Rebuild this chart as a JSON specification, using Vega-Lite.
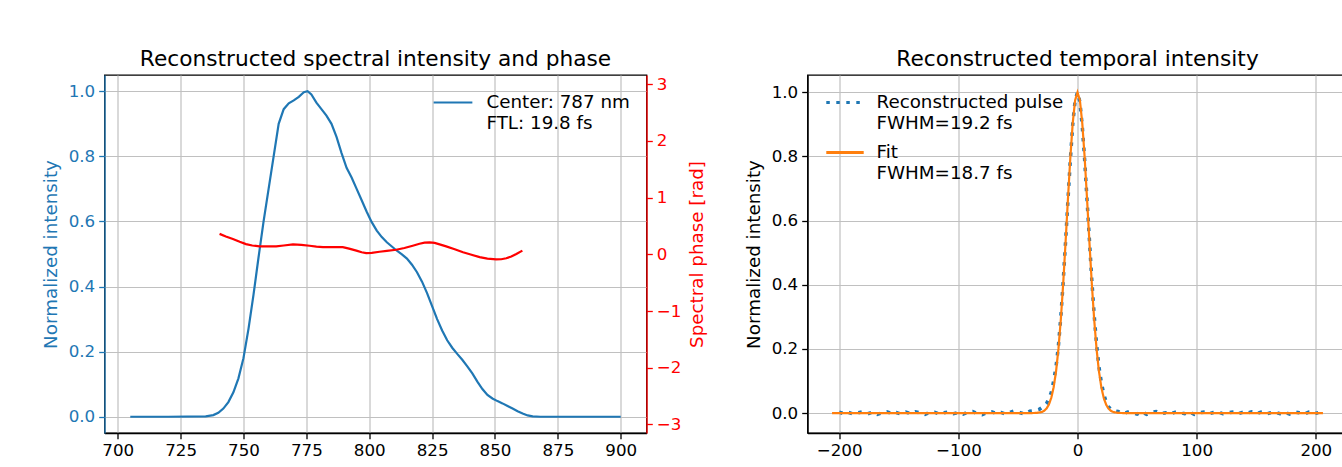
{
  "$schema": "https://vega.github.io/schema/vega-lite/v6.json",
  "background": "white",
  "padding": {"left": 40.5, "top": 48, "right": 0, "bottom": 0},
  "spacing": 36,
  "datasets": {
    "spectrum": [
      {"wavelength": 705, "intensity": 0, "series": "Center: 787 nm|FTL: 19.8 fs"},
      {"wavelength": 720, "intensity": 0, "series": "Center: 787 nm|FTL: 19.8 fs"},
      {"wavelength": 735, "intensity": 0.001, "series": "Center: 787 nm|FTL: 19.8 fs"},
      {"wavelength": 738, "intensity": 0.005, "series": "Center: 787 nm|FTL: 19.8 fs"},
      {"wavelength": 740, "intensity": 0.012, "series": "Center: 787 nm|FTL: 19.8 fs"},
      {"wavelength": 742, "intensity": 0.025, "series": "Center: 787 nm|FTL: 19.8 fs"},
      {"wavelength": 744, "intensity": 0.045, "series": "Center: 787 nm|FTL: 19.8 fs"},
      {"wavelength": 746, "intensity": 0.075, "series": "Center: 787 nm|FTL: 19.8 fs"},
      {"wavelength": 748, "intensity": 0.118, "series": "Center: 787 nm|FTL: 19.8 fs"},
      {"wavelength": 750, "intensity": 0.18, "series": "Center: 787 nm|FTL: 19.8 fs"},
      {"wavelength": 752, "intensity": 0.27, "series": "Center: 787 nm|FTL: 19.8 fs"},
      {"wavelength": 754, "intensity": 0.375, "series": "Center: 787 nm|FTL: 19.8 fs"},
      {"wavelength": 756, "intensity": 0.49, "series": "Center: 787 nm|FTL: 19.8 fs"},
      {"wavelength": 758, "intensity": 0.6, "series": "Center: 787 nm|FTL: 19.8 fs"},
      {"wavelength": 760, "intensity": 0.7, "series": "Center: 787 nm|FTL: 19.8 fs"},
      {"wavelength": 762, "intensity": 0.8, "series": "Center: 787 nm|FTL: 19.8 fs"},
      {"wavelength": 764, "intensity": 0.9, "series": "Center: 787 nm|FTL: 19.8 fs"},
      {"wavelength": 766, "intensity": 0.945, "series": "Center: 787 nm|FTL: 19.8 fs"},
      {"wavelength": 768, "intensity": 0.963, "series": "Center: 787 nm|FTL: 19.8 fs"},
      {"wavelength": 770, "intensity": 0.972, "series": "Center: 787 nm|FTL: 19.8 fs"},
      {"wavelength": 772, "intensity": 0.983, "series": "Center: 787 nm|FTL: 19.8 fs"},
      {"wavelength": 774, "intensity": 0.997, "series": "Center: 787 nm|FTL: 19.8 fs"},
      {"wavelength": 775.5, "intensity": 1.0, "series": "Center: 787 nm|FTL: 19.8 fs"},
      {"wavelength": 777, "intensity": 0.99, "series": "Center: 787 nm|FTL: 19.8 fs"},
      {"wavelength": 779, "intensity": 0.965, "series": "Center: 787 nm|FTL: 19.8 fs"},
      {"wavelength": 781, "intensity": 0.945, "series": "Center: 787 nm|FTL: 19.8 fs"},
      {"wavelength": 783, "intensity": 0.925, "series": "Center: 787 nm|FTL: 19.8 fs"},
      {"wavelength": 785, "intensity": 0.9, "series": "Center: 787 nm|FTL: 19.8 fs"},
      {"wavelength": 787, "intensity": 0.86, "series": "Center: 787 nm|FTL: 19.8 fs"},
      {"wavelength": 789, "intensity": 0.81, "series": "Center: 787 nm|FTL: 19.8 fs"},
      {"wavelength": 791, "intensity": 0.765, "series": "Center: 787 nm|FTL: 19.8 fs"},
      {"wavelength": 793, "intensity": 0.735, "series": "Center: 787 nm|FTL: 19.8 fs"},
      {"wavelength": 795, "intensity": 0.7, "series": "Center: 787 nm|FTL: 19.8 fs"},
      {"wavelength": 797, "intensity": 0.665, "series": "Center: 787 nm|FTL: 19.8 fs"},
      {"wavelength": 799, "intensity": 0.63, "series": "Center: 787 nm|FTL: 19.8 fs"},
      {"wavelength": 801, "intensity": 0.598, "series": "Center: 787 nm|FTL: 19.8 fs"},
      {"wavelength": 803, "intensity": 0.572, "series": "Center: 787 nm|FTL: 19.8 fs"},
      {"wavelength": 805, "intensity": 0.552, "series": "Center: 787 nm|FTL: 19.8 fs"},
      {"wavelength": 807, "intensity": 0.536, "series": "Center: 787 nm|FTL: 19.8 fs"},
      {"wavelength": 809, "intensity": 0.523, "series": "Center: 787 nm|FTL: 19.8 fs"},
      {"wavelength": 811, "intensity": 0.51, "series": "Center: 787 nm|FTL: 19.8 fs"},
      {"wavelength": 813, "intensity": 0.499, "series": "Center: 787 nm|FTL: 19.8 fs"},
      {"wavelength": 815, "intensity": 0.486, "series": "Center: 787 nm|FTL: 19.8 fs"},
      {"wavelength": 817, "intensity": 0.467, "series": "Center: 787 nm|FTL: 19.8 fs"},
      {"wavelength": 819, "intensity": 0.444, "series": "Center: 787 nm|FTL: 19.8 fs"},
      {"wavelength": 821, "intensity": 0.415, "series": "Center: 787 nm|FTL: 19.8 fs"},
      {"wavelength": 823, "intensity": 0.38, "series": "Center: 787 nm|FTL: 19.8 fs"},
      {"wavelength": 825, "intensity": 0.34, "series": "Center: 787 nm|FTL: 19.8 fs"},
      {"wavelength": 827, "intensity": 0.3, "series": "Center: 787 nm|FTL: 19.8 fs"},
      {"wavelength": 829, "intensity": 0.265, "series": "Center: 787 nm|FTL: 19.8 fs"},
      {"wavelength": 831, "intensity": 0.235, "series": "Center: 787 nm|FTL: 19.8 fs"},
      {"wavelength": 833, "intensity": 0.212, "series": "Center: 787 nm|FTL: 19.8 fs"},
      {"wavelength": 835, "intensity": 0.193, "series": "Center: 787 nm|FTL: 19.8 fs"},
      {"wavelength": 837, "intensity": 0.175, "series": "Center: 787 nm|FTL: 19.8 fs"},
      {"wavelength": 839, "intensity": 0.155, "series": "Center: 787 nm|FTL: 19.8 fs"},
      {"wavelength": 841, "intensity": 0.133, "series": "Center: 787 nm|FTL: 19.8 fs"},
      {"wavelength": 843, "intensity": 0.108, "series": "Center: 787 nm|FTL: 19.8 fs"},
      {"wavelength": 845, "intensity": 0.085, "series": "Center: 787 nm|FTL: 19.8 fs"},
      {"wavelength": 847, "intensity": 0.067, "series": "Center: 787 nm|FTL: 19.8 fs"},
      {"wavelength": 849, "intensity": 0.056, "series": "Center: 787 nm|FTL: 19.8 fs"},
      {"wavelength": 851, "intensity": 0.048, "series": "Center: 787 nm|FTL: 19.8 fs"},
      {"wavelength": 853, "intensity": 0.041, "series": "Center: 787 nm|FTL: 19.8 fs"},
      {"wavelength": 855, "intensity": 0.033, "series": "Center: 787 nm|FTL: 19.8 fs"},
      {"wavelength": 857, "intensity": 0.025, "series": "Center: 787 nm|FTL: 19.8 fs"},
      {"wavelength": 859, "intensity": 0.017, "series": "Center: 787 nm|FTL: 19.8 fs"},
      {"wavelength": 861, "intensity": 0.01, "series": "Center: 787 nm|FTL: 19.8 fs"},
      {"wavelength": 863, "intensity": 0.004, "series": "Center: 787 nm|FTL: 19.8 fs"},
      {"wavelength": 865, "intensity": 0.001, "series": "Center: 787 nm|FTL: 19.8 fs"},
      {"wavelength": 868, "intensity": 0, "series": "Center: 787 nm|FTL: 19.8 fs"},
      {"wavelength": 900, "intensity": 0, "series": "Center: 787 nm|FTL: 19.8 fs"}
    ],
    "phase": [
      {"wavelength": 740.5, "phase": 0.36},
      {"wavelength": 743, "phase": 0.315},
      {"wavelength": 745.8, "phase": 0.27},
      {"wavelength": 748.5, "phase": 0.22},
      {"wavelength": 751, "phase": 0.18},
      {"wavelength": 753.5, "phase": 0.155},
      {"wavelength": 756.4, "phase": 0.14},
      {"wavelength": 760, "phase": 0.14},
      {"wavelength": 763, "phase": 0.14},
      {"wavelength": 766, "phase": 0.155},
      {"wavelength": 769.7, "phase": 0.175},
      {"wavelength": 773, "phase": 0.165},
      {"wavelength": 776.3, "phase": 0.15},
      {"wavelength": 779, "phase": 0.135},
      {"wavelength": 781.6, "phase": 0.125},
      {"wavelength": 785, "phase": 0.125},
      {"wavelength": 789.5, "phase": 0.125},
      {"wavelength": 792, "phase": 0.1},
      {"wavelength": 794.9, "phase": 0.065},
      {"wavelength": 797, "phase": 0.035},
      {"wavelength": 798.8, "phase": 0.02},
      {"wavelength": 801, "phase": 0.025},
      {"wavelength": 804.1, "phase": 0.045},
      {"wavelength": 807, "phase": 0.06},
      {"wavelength": 810.7, "phase": 0.08},
      {"wavelength": 814, "phase": 0.11},
      {"wavelength": 817.3, "phase": 0.15},
      {"wavelength": 820, "phase": 0.185},
      {"wavelength": 822, "phase": 0.205},
      {"wavelength": 824, "phase": 0.21},
      {"wavelength": 826, "phase": 0.2},
      {"wavelength": 828, "phase": 0.175},
      {"wavelength": 830.6, "phase": 0.14},
      {"wavelength": 834, "phase": 0.09},
      {"wavelength": 837.3, "phase": 0.035},
      {"wavelength": 840, "phase": 0.0},
      {"wavelength": 843.9, "phase": -0.05},
      {"wavelength": 847, "phase": -0.075},
      {"wavelength": 850.5, "phase": -0.09},
      {"wavelength": 852.5, "phase": -0.088},
      {"wavelength": 854.5, "phase": -0.07},
      {"wavelength": 856.5, "phase": -0.04},
      {"wavelength": 858.5, "phase": 0.005},
      {"wavelength": 860.9, "phase": 0.065}
    ],
    "pulse": [
      {"time": -200, "intensity": 0.003}, {"time": -196, "intensity": -0.002}, {"time": -192, "intensity": 0.002},
      {"time": -188, "intensity": -0.003}, {"time": -184, "intensity": 0.001}, {"time": -180, "intensity": 0.004},
      {"time": -176, "intensity": -0.002}, {"time": -172, "intensity": 0.003}, {"time": -168, "intensity": -0.004},
      {"time": -164, "intensity": 0.001}, {"time": -160, "intensity": 0.004}, {"time": -156, "intensity": -0.001},
      {"time": -152, "intensity": 0.002}, {"time": -148, "intensity": -0.003}, {"time": -144, "intensity": 0.003},
      {"time": -140, "intensity": -0.002}, {"time": -136, "intensity": 0.004}, {"time": -132, "intensity": 0.001},
      {"time": -128, "intensity": -0.004}, {"time": -124, "intensity": 0.002}, {"time": -120, "intensity": 0.003},
      {"time": -116, "intensity": -0.003}, {"time": -112, "intensity": 0.001}, {"time": -108, "intensity": 0.004},
      {"time": -104, "intensity": -0.002}, {"time": -100, "intensity": 0.002}, {"time": -96, "intensity": -0.003},
      {"time": -92, "intensity": 0.003}, {"time": -88, "intensity": 0.005}, {"time": -84, "intensity": -0.002},
      {"time": -80, "intensity": -0.005}, {"time": -76, "intensity": 0.002}, {"time": -72, "intensity": 0.004},
      {"time": -68, "intensity": -0.001}, {"time": -64, "intensity": 0.002}, {"time": -60, "intensity": -0.004},
      {"time": -56, "intensity": 0.003}, {"time": -52, "intensity": 0.008}, {"time": -48, "intensity": 0.001},
      {"time": -44, "intensity": -0.003}, {"time": -40, "intensity": 0.006}, {"time": -36, "intensity": 0.008},
      {"time": -32, "intensity": 0.012}, {"time": -28, "intensity": 0.022}, {"time": -26, "intensity": 0.03},
      {"time": -24, "intensity": 0.045}, {"time": -22, "intensity": 0.065}, {"time": -20, "intensity": 0.1},
      {"time": -18, "intensity": 0.145}, {"time": -16, "intensity": 0.21}, {"time": -14, "intensity": 0.3},
      {"time": -12, "intensity": 0.41}, {"time": -10, "intensity": 0.535}, {"time": -8, "intensity": 0.665},
      {"time": -6, "intensity": 0.79}, {"time": -4, "intensity": 0.9}, {"time": -2, "intensity": 0.975},
      {"time": 0, "intensity": 1.0}, {"time": 2, "intensity": 0.97}, {"time": 4, "intensity": 0.895},
      {"time": 6, "intensity": 0.79}, {"time": 8, "intensity": 0.665}, {"time": 10, "intensity": 0.54},
      {"time": 12, "intensity": 0.415}, {"time": 14, "intensity": 0.305}, {"time": 16, "intensity": 0.215},
      {"time": 18, "intensity": 0.145}, {"time": 20, "intensity": 0.095}, {"time": 22, "intensity": 0.06},
      {"time": 24, "intensity": 0.035}, {"time": 26, "intensity": 0.02}, {"time": 28, "intensity": 0.012},
      {"time": 30, "intensity": 0.008}, {"time": 34, "intensity": 0.005}, {"time": 38, "intensity": -0.002},
      {"time": 42, "intensity": 0.003}, {"time": 46, "intensity": 0.001}, {"time": 50, "intensity": -0.003},
      {"time": 54, "intensity": 0.004}, {"time": 58, "intensity": -0.004}, {"time": 62, "intensity": 0.002},
      {"time": 66, "intensity": 0.005}, {"time": 70, "intensity": -0.002}, {"time": 74, "intensity": 0.001},
      {"time": 78, "intensity": -0.003}, {"time": 82, "intensity": 0.003}, {"time": 86, "intensity": 0.002},
      {"time": 90, "intensity": -0.002}, {"time": 94, "intensity": 0.004}, {"time": 98, "intensity": -0.004},
      {"time": 102, "intensity": 0.001}, {"time": 106, "intensity": 0.003}, {"time": 110, "intensity": -0.003},
      {"time": 114, "intensity": 0.002}, {"time": 118, "intensity": 0.004}, {"time": 122, "intensity": -0.002},
      {"time": 126, "intensity": 0.001}, {"time": 130, "intensity": 0.003}, {"time": 134, "intensity": -0.003},
      {"time": 138, "intensity": 0.002}, {"time": 142, "intensity": -0.001}, {"time": 146, "intensity": 0.004},
      {"time": 150, "intensity": -0.002}, {"time": 154, "intensity": 0.003}, {"time": 158, "intensity": -0.003},
      {"time": 162, "intensity": 0.001}, {"time": 166, "intensity": 0.003}, {"time": 170, "intensity": -0.002},
      {"time": 174, "intensity": 0.002}, {"time": 178, "intensity": -0.003}, {"time": 182, "intensity": 0.004},
      {"time": 186, "intensity": 0.001}, {"time": 190, "intensity": -0.003}, {"time": 194, "intensity": 0.003},
      {"time": 198, "intensity": -0.002}, {"time": 202, "intensity": 0.001}
    ],
    "fit": [
      {"time": -206, "intensity": 0}, {"time": -40, "intensity": 0}, {"time": -34, "intensity": 0.0007},
      {"time": -30, "intensity": 0.0035}, {"time": -28, "intensity": 0.0072}, {"time": -26, "intensity": 0.0143},
      {"time": -24, "intensity": 0.0268}, {"time": -22, "intensity": 0.0477}, {"time": -20, "intensity": 0.0808},
      {"time": -18, "intensity": 0.1304}, {"time": -16, "intensity": 0.2}, {"time": -14, "intensity": 0.2916},
      {"time": -12, "intensity": 0.4044}, {"time": -10, "intensity": 0.5333}, {"time": -8, "intensity": 0.6687},
      {"time": -6, "intensity": 0.7975}, {"time": -4, "intensity": 0.9043}, {"time": -2, "intensity": 0.9752},
      {"time": 0, "intensity": 1.0}, {"time": 2, "intensity": 0.9752}, {"time": 4, "intensity": 0.9043},
      {"time": 6, "intensity": 0.7975}, {"time": 8, "intensity": 0.6687}, {"time": 10, "intensity": 0.5333},
      {"time": 12, "intensity": 0.4044}, {"time": 14, "intensity": 0.2916}, {"time": 16, "intensity": 0.2},
      {"time": 18, "intensity": 0.1304}, {"time": 20, "intensity": 0.0808}, {"time": 22, "intensity": 0.0477},
      {"time": 24, "intensity": 0.0268}, {"time": 26, "intensity": 0.0143}, {"time": 28, "intensity": 0.0072},
      {"time": 30, "intensity": 0.0035}, {"time": 34, "intensity": 0.0007}, {"time": 40, "intensity": 0},
      {"time": 206, "intensity": 0}
    ]
  },
  "resolve": {
    "scale": {"color": "independent", "strokeDash": "independent"},
    "legend": {"color": "independent", "strokeDash": "independent"}
  },
  "hconcat": [
    {
      "title": "Reconstructed spectral intensity and phase",
      "width": 542,
      "height": 358,
      "layer": [
        {
          "data": {"name": "spectrum"},
          "mark": {"type": "line", "strokeWidth": 2.2},
          "encoding": {
            "x": {"field": "wavelength", "type": "quantitative", "title": "Wavelength [nm]",
              "scale": {"domain": [694.75, 910.25], "nice": false, "zero": false},
              "axis": {"values": [700, 725, 750, 775, 800, 825, 850, 875, 900], "grid": true}},
            "y": {"field": "intensity", "type": "quantitative", "title": "Normalized intensity",
              "scale": {"domain": [-0.05, 1.05], "nice": false, "zero": false},
              "axis": {"orient": "left", "values": [0, 0.2, 0.4, 0.6, 0.8, 1.0], "format": ".1f", "grid": true,
                "labelColor": "#1f77b4", "titleColor": "#1f77b4", "tickColor": "#1f77b4", "domainColor": "#1f77b4"}},
            "color": {"field": "series", "type": "nominal",
              "scale": {"domain": ["Center: 787 nm|FTL: 19.8 fs"], "range": ["#1f77b4"]},
              "legend": {"title": null, "orient": "none", "legendX": 328, "legendY": 7, "padding": 0,
                "symbolType": "stroke", "symbolSize": 1500, "symbolStrokeWidth": 2.2,
                "labelExpr": "split(datum.label, '|')", "labelOffset": 13}}
          }
        },
        {
          "data": {"name": "phase"},
          "mark": {"type": "line", "strokeWidth": 2.2, "color": "#ff0000"},
          "encoding": {
            "x": {"field": "wavelength", "type": "quantitative", "title": "Wavelength [nm]",
              "scale": {"domain": [694.75, 910.25], "nice": false, "zero": false}},
            "y": {"field": "phase", "type": "quantitative", "title": "Spectral phase [rad]",
              "scale": {"domain": [-3.15, 3.16], "nice": false, "zero": false},
              "axis": {"orient": "right", "values": [-3, -2, -1, 0, 1, 2, 3], "grid": false,
                "labelExpr": "replace(datum.label, '-', '−')", "titleAngle": 270, "titleBaseline": "top",
                "labelColor": "#ff0000", "titleColor": "#ff0000", "tickColor": "#ff0000", "domainColor": "#ff0000"}}
          }
        }
      ],
      "resolve": {"scale": {"y": "independent"}}
    },
    {
      "title": "Reconstructed temporal intensity",
      "width": 540,
      "height": 358,
      "layer": [
        {
          "data": {"name": "pulse"},
          "transform": [{"calculate": "'Reconstructed pulse|FWHM=19.2 fs'", "as": "series"}],
          "mark": {"type": "line", "strokeWidth": 3.5},
          "encoding": {
            "x": {"field": "time", "type": "quantitative", "title": "Time [fs]",
              "scale": {"domain": [-226.6, 226.6], "nice": false, "zero": false},
              "axis": {"values": [-200, -100, 0, 100, 200], "grid": true, "labelExpr": "replace(datum.label, '-', '−')"}},
            "y": {"field": "intensity", "type": "quantitative", "title": "Normalized intensity",
              "scale": {"domain": [-0.062, 1.054], "nice": false, "zero": false},
              "axis": {"values": [0, 0.2, 0.4, 0.6, 0.8, 1.0], "format": ".1f", "grid": true}},
            "color": {"field": "series", "type": "nominal",
              "scale": {"domain": ["Reconstructed pulse|FWHM=19.2 fs", "Fit|FWHM=18.7 fs"], "range": ["#1f77b4", "#ff7f0e"]},
              "legend": {"title": null, "orient": "none", "legendX": 17, "legendY": 7, "padding": 0,
                "symbolType": "stroke", "symbolSize": 1400, "symbolStrokeWidth": 3, "rowPadding": -2,
                "labelExpr": "split(datum.label, '|')", "labelOffset": 11}},
            "strokeDash": {"field": "series", "type": "nominal",
              "scale": {"domain": ["Reconstructed pulse|FWHM=19.2 fs", "Fit|FWHM=18.7 fs"], "range": [[3.5, 6.5], [1, 0]]},
              "legend": {"title": null, "orient": "none", "legendX": 17, "legendY": 7, "padding": 0,
                "symbolType": "stroke", "symbolSize": 1400, "symbolStrokeWidth": 3, "rowPadding": -2,
                "labelExpr": "split(datum.label, '|')", "labelOffset": 11}}
          }
        },
        {
          "data": {"name": "fit"},
          "transform": [{"calculate": "'Fit|FWHM=18.7 fs'", "as": "series"}],
          "mark": {"type": "line", "strokeWidth": 2.2},
          "encoding": {
            "x": {"field": "time", "type": "quantitative", "title": "Time [fs]",
              "scale": {"domain": [-226.6, 226.6], "nice": false, "zero": false}},
            "y": {"field": "intensity", "type": "quantitative", "title": "Normalized intensity",
              "scale": {"domain": [-0.062, 1.054], "nice": false, "zero": false}},
            "color": {"field": "series", "type": "nominal"},
            "strokeDash": {"field": "series", "type": "nominal"}
          }
        }
      ]
    }
  ],
  "config": {
    "font": "DejaVu Sans",
    "view": {"stroke": "#000000", "strokeWidth": 1.3},
    "axis": {
      "labelFont": "DejaVu Sans", "titleFont": "DejaVu Sans",
      "labelFontSize": 16.7, "titleFontSize": 18.3, "titleFontWeight": "normal",
      "labelColor": "#000000", "titleColor": "#000000", "tickColor": "#000000", "domainColor": "#000000",
      "tickSize": 5.8, "tickWidth": 1.3, "domainWidth": 1.3,
      "gridColor": "#c0c0c0", "gridWidth": 1.2,
      "labelPadding": 4, "titlePadding": 8, "labelFlush": false, "labelOverlap": false
    },
    "title": {"font": "DejaVu Sans", "fontSize": 21.7, "fontWeight": "normal", "color": "#000000", "anchor": "middle", "frame": "group", "offset": 4},
    "legend": {"labelFont": "DejaVu Sans", "labelFontSize": 18.3, "labelColor": "#000000", "labelLimit": 500},
    "style": {"guide-label": {"lineHeight": 21}}
  }
}
